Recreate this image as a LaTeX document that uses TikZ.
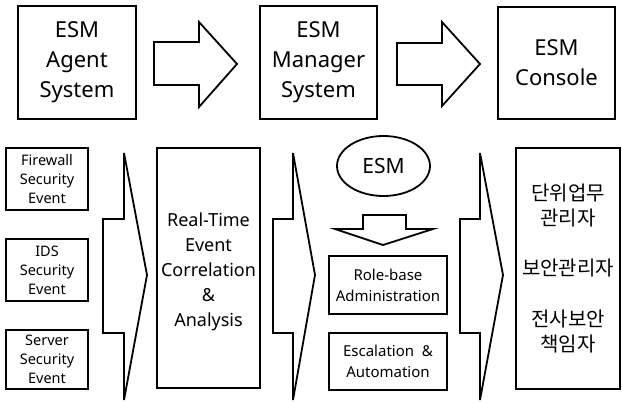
\documentclass[tikz,border=0pt]{standalone}
\usepackage{fontspec}
\setmainfont{Noto Sans}
\newfontfamily\kr{Noto Sans CJK KR}
\usetikzlibrary{shapes.geometric}
\tikzset{
  box/.style={draw, line width=1.8pt, inner sep=0pt, align=center},
  blk/.style={draw, line width=1.8pt, line join=miter, fill=white},
  big/.style={font=\fontsize{22}{30}\selectfont},
  mid/.style={font=\fontsize{18}{25}\selectfont},
  sml/.style={font=\fontsize{14.5}{19}\selectfont},
  rol/.style={font=\fontsize{15}{21}\selectfont},
}
\begin{document}
\begin{tikzpicture}[x=1pt,y=-1pt]
\useasboundingbox (0,0) rectangle (622,403);
% top row
\node[box,big,minimum width=118pt,minimum height=113pt] (agent) at (77,62.5) {ESM\\Agent\\System};
\node[box,big,minimum width=117pt,minimum height=113pt] (manager) at (318.5,62.5) {ESM\\Manager\\System};
\node[box,big,minimum width=117pt,minimum height=112pt] (console) at (556.5,63) {ESM\\Console};
\draw[blk] (154,42) -- (199,42) -- (199,22) -- (237,64) -- (199,107) -- (199,85) -- (154,85) -- cycle;
\draw[blk] (397,43) -- (442,43) -- (442,22) -- (480,64) -- (442,106) -- (442,85) -- (397,85) -- cycle;
% bottom left
\node[box,sml,minimum width=82pt,minimum height=62pt] (fw) at (47,179) {Firewall\\Security\\Event};
\node[box,sml,minimum width=82pt,minimum height=62pt] (ids) at (47,270) {IDS\\Security\\Event};
\node[box,sml,minimum width=82pt,minimum height=59pt] (srv) at (47,359.5) {Server\\Security\\Event};
\draw[blk] (103,219) -- (124,219) -- (124,153) -- (147,275) -- (124,400) -- (124,333) -- (103,333) -- cycle;
\node[box,mid,minimum width=103pt,minimum height=240pt] (rt) at (208.5,268) {};
\node[mid,align=center] (rtt) at (208.5,272) {Real-Time\\Event\\Correlation\\\&\\Analysis};
\draw[blk] (273,219) -- (293,219) -- (293,153) -- (315,275) -- (293,400) -- (293,333) -- (273,333) -- cycle;
% middle column
\draw[line width=1.8pt] (383.5,166) ellipse [x radius=46.5, y radius=30];
\node[font=\fontsize{21}{25}\selectfont] (esm) at (383.5,166) {ESM};
\draw[blk] (363,215) -- (406,215) -- (406,229) -- (433,229) -- (383,245) -- (335,229) -- (363,229) -- cycle;
\node[box,rol,minimum width=118pt,minimum height=58pt] (role) at (388,285) {Role-base\\Administration};
\node[box,rol,minimum width=118pt,minimum height=57pt] (esc) at (388,361.5) {Escalation ~\&\\Automation};
\draw[blk] (460,219) -- (480,219) -- (480,153) -- (503,275) -- (480,400) -- (480,333) -- (460,333) -- cycle;
% right box
\node[box,minimum width=104pt,minimum height=241pt] (users) at (568,268.5) {};
\node[align=center,font=\kr\fontsize{20}{25}\selectfont] (ut) at (568,269) {단위업무\\관리자\\[25pt]보안관리자\\[26pt]전사보안\\책임자};
\end{tikzpicture}
\end{document}
